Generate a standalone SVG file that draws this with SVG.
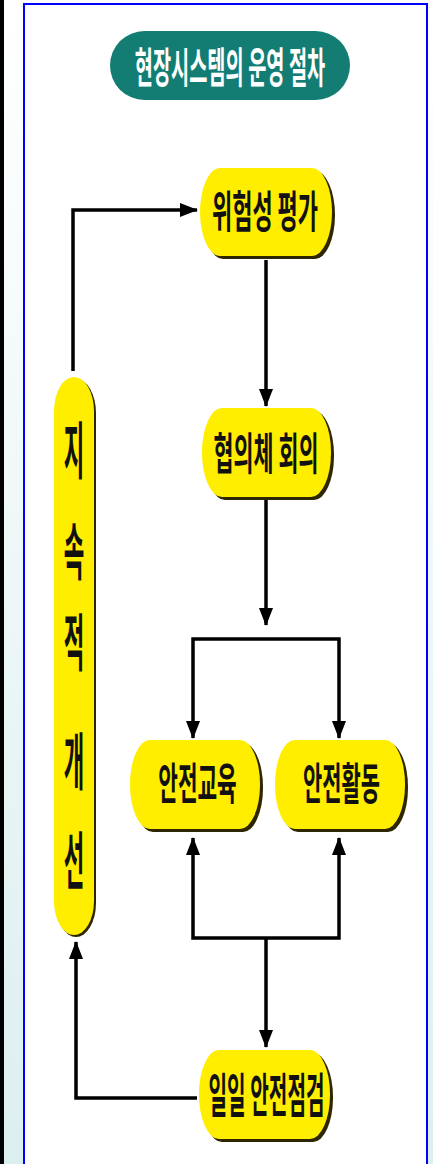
<svg xmlns="http://www.w3.org/2000/svg" width="433" height="1164" viewBox="0 0 433 1164">
<defs>
<linearGradient id="side" x1="0" y1="0" x2="0" y2="1">
<stop offset="0" stop-color="#ffffff"/>
<stop offset="1" stop-color="#dcefef"/>
</linearGradient>
<marker id="ah" markerUnits="userSpaceOnUse" markerWidth="18" markerHeight="14" refX="17" refY="7" orient="auto">
<path d="M0,0 L18,7 L0,14 z" fill="#000"/>
</marker>
<style>
.shadow{fill:#2e2600}
.body{fill:#ffee00}
.lbl{font-family:"Noto Sans CJK KR","Noto Sans",sans-serif;font-weight:bold;fill:#111;text-anchor:middle}
.conn{fill:none;stroke:#000;stroke-width:3.5;stroke-linejoin:miter;marker-end:url(#ah)}
</style>
</defs>
<rect x="0" y="0" width="433" height="1164" fill="#ffffff"/>
<rect x="0" y="0" width="4" height="1164" fill="#000"/>
<rect x="4" y="0" width="19" height="1164" fill="url(#side)"/>
<rect x="428" y="0" width="5" height="1164" fill="url(#side)"/>
<g id="frame" fill="none" stroke="#0000ff" stroke-width="2">
<path d="M24,1164 V4 H427 V1164"/>
</g>

<g id="title">
<rect x="110" y="31" width="240" height="69" rx="34.5" fill="#137d74"/>
<text transform="translate(230,83) scale(0.47,1)" font-family="Noto Sans CJK KR, Noto Sans, sans-serif" font-weight="bold" font-size="42" fill="#ffffff" text-anchor="middle">현장시스템의 운영 절차</text>
</g>

<g id="connectors">
<path class="conn" d="M73,371 V210 H197"/>
<path class="conn" d="M266,260 V406"/>
<path class="conn" d="M266,500 V625"/>
<path class="conn" d="M266,639 H193 V738"/>
<path class="conn" d="M266,639 H339 V738"/>
<path class="conn" d="M266,938 H193 V838"/>
<path class="conn" d="M266,938 H339 V838"/>
<path class="conn" d="M266,938 V1047"/>
<path class="conn" d="M197,1098 H76 V942"/>
</g>

<g id="risk">
<rect class="shadow" x="203" y="171" width="132" height="88" rx="20" ry="44"/>
<rect class="body" x="200" y="168" width="132" height="88" rx="20" ry="44"/>
<text class="lbl" transform="translate(265,228) scale(0.5,1)" font-size="44">위험성 평가</text>
</g>

<g id="council">
<rect class="shadow" x="205" y="411" width="129" height="89" rx="20" ry="44"/>
<rect class="body" x="202" y="408" width="129" height="89" rx="20" ry="44"/>
<text class="lbl" transform="translate(266,470) scale(0.495,1)" font-size="44">협의체 회의</text>
</g>

<g id="education">
<rect class="shadow" x="133" y="743" width="130" height="89" rx="20" ry="44"/>
<rect class="body" x="130" y="740" width="130" height="89" rx="20" ry="44"/>
<text class="lbl" transform="translate(197.5,800) scale(0.485,1)" font-size="44">안전교육</text>
</g>

<g id="activity">
<rect class="shadow" x="278" y="743" width="130" height="89" rx="20" ry="44"/>
<rect class="body" x="275" y="740" width="130" height="89" rx="20" ry="44"/>
<text class="lbl" transform="translate(341.5,800) scale(0.475,1)" font-size="44">안전활동</text>
</g>

<g id="daily">
<rect class="shadow" x="202" y="1053" width="131" height="89" rx="20" ry="44"/>
<rect class="body" x="199" y="1050" width="131" height="89" rx="20" ry="44"/>
<text class="lbl" transform="translate(266.5,1112) scale(0.43,1)" font-size="47">일일 안전점검</text>
</g>

<g id="improve">
<rect class="shadow" x="56" y="379" width="40" height="558" rx="20" ry="34"/>
<rect class="body" x="54" y="377" width="40" height="558" rx="20" ry="34"/>
<text class="lbl" transform="translate(74,474) scale(0.36,1)" font-size="62">지</text>
<text class="lbl" transform="translate(74,575) scale(0.36,1)" font-size="62">속</text>
<text class="lbl" transform="translate(74,666) scale(0.36,1)" font-size="62">적</text>
<text class="lbl" transform="translate(74,785) scale(0.36,1)" font-size="62">개</text>
<text class="lbl" transform="translate(74,884) scale(0.36,1)" font-size="62">선</text>
</g>
</svg>
